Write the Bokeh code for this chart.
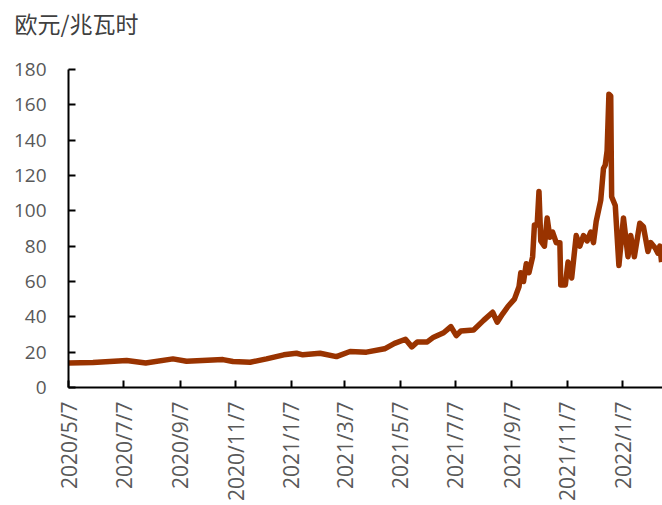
import datetime as dt
from math import pi
from bokeh.plotting import figure
from bokeh.models import Range1d, FixedTicker, ColumnDataSource, LinearAxis
from bokeh.embed import file_html
from bokeh.resources import INLINE

# ---- data ----
dates = [
    "2020-05-07", "2020-06-03", "2020-07-10", "2020-07-31", "2020-08-30", "2020-09-14",
    "2020-10-24", "2020-11-04", "2020-11-23", "2020-12-11", "2020-12-30", "2021-01-13",
    "2021-01-20", "2021-02-08", "2021-02-26", "2021-03-13", "2021-03-31", "2021-04-20",
    "2021-05-01", "2021-05-13", "2021-05-20", "2021-05-26", "2021-06-06", "2021-06-13",
    "2021-06-24", "2021-07-02", "2021-07-08", "2021-07-13", "2021-07-27", "2021-08-07",
    "2021-08-17", "2021-08-22", "2021-08-28", "2021-09-03", "2021-09-10", "2021-09-15",
    "2021-09-17", "2021-09-20", "2021-09-23", "2021-09-26", "2021-09-30", "2021-10-02",
    "2021-10-05", "2021-10-07", "2021-10-09", "2021-10-13", "2021-10-16", "2021-10-19",
    "2021-10-22", "2021-10-26", "2021-10-30", "2021-10-31", "2021-11-05", "2021-11-08",
    "2021-11-12", "2021-11-17", "2021-11-21", "2021-11-25", "2021-11-29", "2021-12-03",
    "2021-12-06", "2021-12-09", "2021-12-14", "2021-12-17", "2021-12-19", "2021-12-21",
    "2021-12-23", "2021-12-25", "2021-12-26", "2021-12-30", "2022-01-03", "2022-01-08",
    "2022-01-13", "2022-01-16", "2022-01-20", "2022-01-26", "2022-01-30", "2022-02-04",
    "2022-02-07", "2022-02-12", "2022-02-15", "2022-02-17", "2022-02-19",
]
prices = [
    13.8, 14.1, 15.3, 13.9, 16.2, 14.9,
    15.8, 14.7, 14.3, 16.2, 18.5, 19.4,
    18.5, 19.4, 17.5, 20.4, 20.0, 21.9,
    25.0, 27.3, 23.0, 25.8, 25.8, 28.5,
    31.0, 34.5, 29.4, 32.0, 32.6, 38.0,
    42.6, 37.0, 41.7, 46.0, 50.0, 57.0,
    65.0, 60.0, 70.0, 65.0, 74.0, 92.0,
    92.0, 111.0, 83.0, 80.0, 96.0, 85.0,
    88.0, 82.0, 82.0, 58.0, 58.0, 71.0,
    62.0, 86.0, 80.0, 86.0, 83.0, 88.0,
    82.0, 94.0, 106.0, 124.0, 126.0, 134.0,
    166.0, 165.0, 108.0, 103.0, 69.0, 96.0,
    74.0, 86.0, 74.0, 93.0, 91.0, 77.0,
    82.0, 79.0, 76.0, 80.0, 71.0,
]
tick_labels = ["2020/5/7", "2020/7/7", "2020/9/7", "2020/11/7", "2021/1/7", "2021/3/7",
               "2021/5/7", "2021/7/7", "2021/9/7", "2021/11/7", "2022/1/7"]
y_ticks = [0, 20, 40, 60, 80, 100, 120, 140, 160, 180]
unit_title = "欧元/兆瓦时"
x_start = "2020-05-07"
x_end = "2022-02-20"

DAY_MS = 86400000.0


def to_ms(d):
    return (dt.datetime.fromisoformat(d) - dt.datetime(1970, 1, 1)).total_seconds() * 1000.0


def label_ms(s):
    y, m, d = (int(v) for v in s.split("/"))
    return (dt.datetime(y, m, d) - dt.datetime(1970, 1, 1)).total_seconds() * 1000.0


src = ColumnDataSource(dict(x=[to_ms(d) for d in dates], y=prices))

p = figure(width=662, height=505, output_backend="svg", toolbar_location=None,
           x_axis_type="datetime",
           x_range=Range1d(to_ms(x_start), to_ms(x_end)),
           y_range=Range1d(0, 180),
           min_border_left=68, min_border_right=0, min_border_top=69, min_border_bottom=118)
p.outline_line_color = None
p.grid.visible = False
p.background_fill_color = "white"

p.line("x", "y", source=src, line_color="#993300", line_width=5.5, line_join="round")

tick_ms = [label_ms(s) for s in tick_labels]
p.xaxis.ticker = FixedTicker(ticks=tick_ms)
p.xaxis.major_label_overrides = {t: s for t, s in zip(tick_ms, tick_labels)}
p.xaxis.major_label_orientation = pi / 2
p.yaxis.ticker = FixedTicker(ticks=y_ticks)

for ax in (p.xaxis[0], p.yaxis[0]):
    ax.axis_line_color = "black"
    ax.axis_line_width = 2
    ax.major_tick_line_color = "black"
    ax.major_tick_line_width = 2
    ax.major_tick_in = 7
    ax.major_tick_out = 0
    ax.minor_tick_line_color = None
    ax.major_label_text_font = "Open Sans"
    ax.major_label_text_color = "#595959"
p.yaxis.major_label_text_font_size = "19px"
p.yaxis.major_label_standoff = 22
p.xaxis.major_label_text_font_size = "21px"
p.xaxis.major_label_standoff = 14

# unit caption above the top-left corner, drawn as a single label of a bare top axis
cap_pos = to_ms(x_start) + 8.8 * DAY_MS
cap_axis = LinearAxis(ticker=FixedTicker(ticks=[cap_pos]),
                      major_label_overrides={cap_pos: unit_title},
                      axis_line_color=None, major_tick_line_color=None,
                      minor_tick_line_color=None,
                      major_tick_in=0, major_tick_out=0,
                      major_label_standoff=30,
                      major_label_text_font="Noto Sans CJK SC",
                      major_label_text_font_size="23px",
                      major_label_text_color="#404040")
p.add_layout(cap_axis, "above")

open("out.html", "w").write(file_html(p, INLINE))
